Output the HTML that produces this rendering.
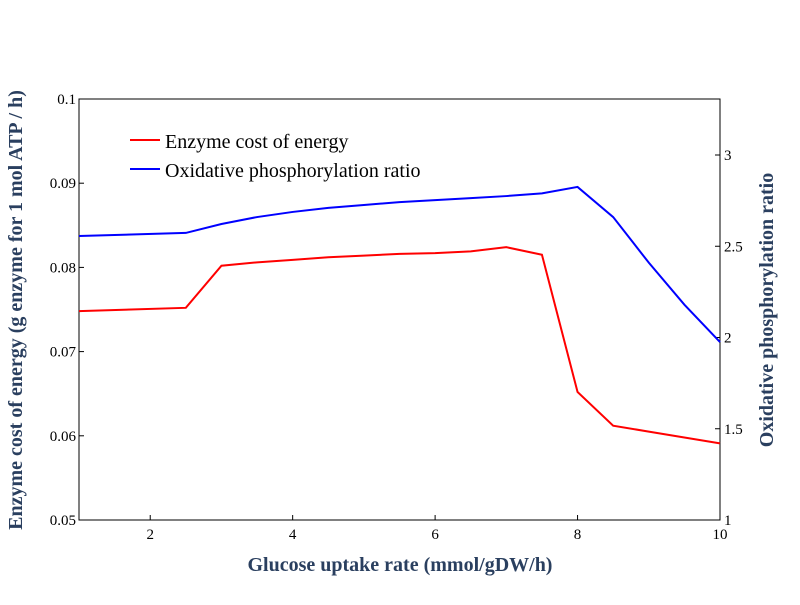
<!DOCTYPE html>
<html><head><meta charset="utf-8"><style>
body{margin:0;background:#fff;}
svg text{font-family:"Liberation Serif",serif;}
</style></head><body>
<svg id="chart" width="800" height="600" xmlns="http://www.w3.org/2000/svg">
<rect x="79" y="99" width="641" height="421" fill="none" stroke="#000" stroke-width="1"/>
<g id="xt"></g><g id="yl"></g><g id="yr"></g><g id="series"></g>
<text x="400" y="571" text-anchor="middle" font-size="20" font-weight="bold" fill="#2a3f5f">Glucose uptake rate (mmol/gDW/h)</text>
<text transform="translate(22,310) rotate(-90)" text-anchor="middle" font-size="20" font-weight="bold" fill="#2a3f5f">Enzyme cost of energy (g enzyme for 1 mol ATP / h)</text>
<text transform="translate(773,310) rotate(-90)" text-anchor="middle" font-size="20" font-weight="bold" fill="#2a3f5f">Oxidative phosphorylation ratio</text>
<g>
<g><line x1="130" y1="140" x2="160" y2="140" stroke="#f00" stroke-width="2"/><text x="165" y="148" font-size="20">Enzyme cost of energy</text></g>
<g><line x1="130" y1="169" x2="160" y2="169" stroke="#00f" stroke-width="2"/><text x="165" y="177" font-size="20">Oxidative phosphorylation ratio</text></g>
</g>
</svg>
<script>
const xValues=[1,2.5,3,3.5,4,4.5,5,5.5,6,6.5,7,7.5,8,8.5,9,9.5,10];
const enzymeCost=[0.0748,0.0752,0.0802,0.0806,0.0809,0.0812,0.0814,0.0816,0.0817,0.0819,0.0824,0.0815,0.0652,0.0612,0.0605,0.0598,0.0591];
const oxphosRatio=[2.556,2.573,2.622,2.66,2.688,2.71,2.726,2.742,2.753,2.764,2.775,2.79,2.825,2.66,2.41,2.18,1.975];
const xTicks=[2,4,6,8,10];
const leftTicks=[0.05,0.06,0.07,0.08,0.09,0.1];
const rightTicks=[1,1.5,2,2.5,3];
const NS="http://www.w3.org/2000/svg";
const X=v=>79+(v-1)*(641/9);
const YL=v=>520-(v-0.05)*(421/0.05);
const YR=v=>520-(v-1)*182.5;
function mk(t,a,p){const e=document.createElementNS(NS,t);for(const k in a)e.setAttribute(k,a[k]);p.appendChild(e);return e;}
const xt=document.getElementById('xt'),yl=document.getElementById('yl'),yr=document.getElementById('yr'),sg=document.getElementById('series');
xTicks.forEach(v=>{mk('line',{x1:X(v),x2:X(v),y1:520,y2:515,stroke:'#000'},xt);
const t=mk('text',{x:X(v),y:539,'text-anchor':'middle','font-size':15},xt);t.textContent=v;

});
leftTicks.forEach(v=>{mk('line',{x1:79,x2:84,y1:YL(v),y2:YL(v),stroke:'#000'},yl);
const t=mk('text',{x:76,y:YL(v)+5,'text-anchor':'end','font-size':15},yl);t.textContent=v;

});
rightTicks.forEach(v=>{mk('line',{x1:715,x2:720,y1:YR(v),y2:YR(v),stroke:'#000'},yr);
const t=mk('text',{x:724,y:YR(v)+5,'font-size':15},yr);t.textContent=v;

});
const r=mk('polyline',{points:xValues.map((x,i)=>X(x)+','+YL(enzymeCost[i])).join(' '),fill:'none',stroke:'#f00','stroke-width':2},sg);


const b=mk('polyline',{points:xValues.map((x,i)=>X(x)+','+YR(oxphosRatio[i])).join(' '),fill:'none',stroke:'#00f','stroke-width':2},sg);


</script>
</body></html>
